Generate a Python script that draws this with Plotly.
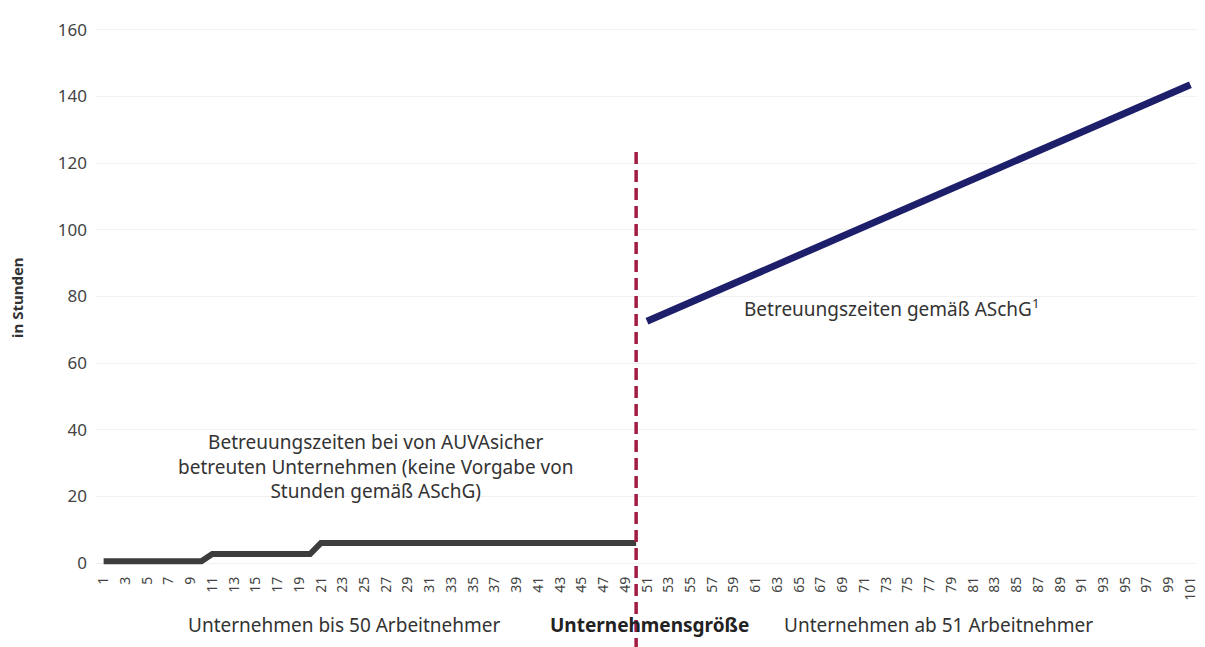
import plotly.graph_objects as go

# --- data ---
small_x = [1, 10, 11, 20, 21, 50]
small_y = [0.5, 0.5, 2.7, 2.7, 6, 6]
large_x = [51, 101]
large_y = [72.5, 143.5]
threshold = 50
x_ticks = list(range(1, 102, 2))
y_ticks = [0, 20, 40, 60, 80, 100, 120, 140, 160]

FONT = "Noto Sans"
TXT = "#333333"

fig = go.Figure()
fig.add_trace(go.Scatter(x=small_x, y=small_y, mode="lines",
                         line=dict(color="#3d3d3d", width=6), hoverinfo="skip"))
fig.add_trace(go.Scatter(x=large_x, y=large_y, mode="lines",
                         line=dict(color="#1e1f6b", width=7), hoverinfo="skip"))

fig.add_shape(type="line", xref="x", yref="paper", x0=threshold, x1=threshold,
              y0=-0.14, y1=0.769, line=dict(color="#a01c42", width=3.5, dash="12px,6px"))

ann = [
    dict(text="Betreuungszeiten bei von AUVAsicher<br>betreuten Unternehmen (keine Vorgabe von<br>Stunden gemäß ASchG)",
         x=26, y=29, xref="x", yref="y", font=dict(size=19, color=TXT, family=FONT)),
    dict(text="Betreuungszeiten gemäß ASchG<sup>1</sup>", x=73.5, y=76.5, xref="x", yref="y",
         font=dict(size=19, color=TXT, family=FONT)),
    dict(text="Unternehmen bis 50 Arbeitnehmer", x=23.2, y=-0.0945, xref="x", yref="paper",
         font=dict(size=19, color=TXT, family=FONT)),
    dict(text="<b>Unternehmensgröße</b>", x=51.2, y=-0.0945, xref="x", yref="paper",
         font=dict(size=19, color="#222222", family=FONT)),
    dict(text="Unternehmen ab 51 Arbeitnehmer", x=77.8, y=-0.0945, xref="x", yref="paper",
         font=dict(size=19, color=TXT, family=FONT)),
    dict(text="<b>in Stunden</b>", x=0, y=0.5, xref="paper", yref="paper", xshift=-79,
         textangle=-90, font=dict(size=15, color=TXT, family=FONT)),
]
for a in ann:
    a.setdefault("showarrow", False)
    a.setdefault("xanchor", "center")
    a.setdefault("yanchor", "middle")
fig.update_layout(annotations=ann)

fig.update_xaxes(range=[0.3, 101.7], tickmode="array", tickvals=x_ticks,
                 ticktext=[str(v) for v in x_ticks], tickangle=-90,
                 tickfont=dict(size=14, color="#444444", family=FONT),
                 showgrid=False, zeroline=False, showline=False, ticks="")
fig.update_yaxes(range=[-3, 162], tickmode="array", tickvals=y_ticks,
                 tickfont=dict(size=17, color="#444444", family=FONT),
                 ticklabelstandoff=8,
                 showgrid=True, gridcolor="#f1f1f1", gridwidth=1,
                 zeroline=False, showline=False, ticks="")

fig.update_layout(width=1197, height=639, showlegend=False,
                  margin=dict(l=88, r=7, t=15, b=74),
                  paper_bgcolor="white", plot_bgcolor="white",
                  font=dict(family=FONT))

fig.write_html("out.html")
